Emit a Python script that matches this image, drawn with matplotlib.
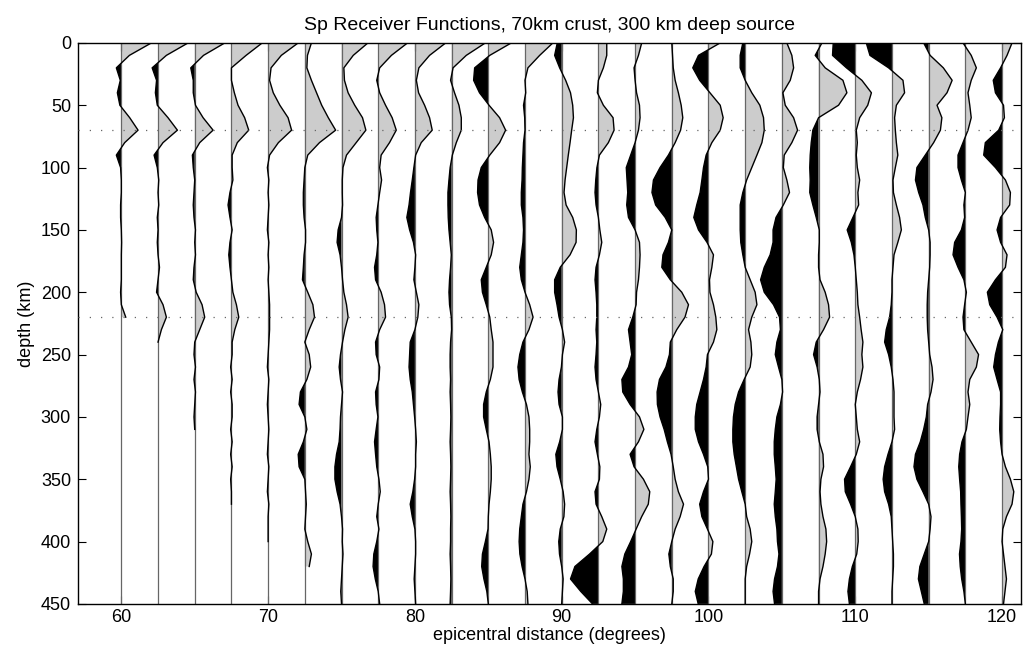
import numpy as np
import matplotlib
matplotlib.use('Agg')
import matplotlib.pyplot as plt

plt.rcParams['font.family'] = ['Liberation Sans', 'DejaVu Sans']

###############################################################################
# Data: trace amplitude (degrees of offset) sampled every 10 km of depth
###############################################################################
DEPTH = np.arange(0, 460, 10)
DIST = [60, 62.5, 65, 67.5, 70, 72.5, 75, 77.5, 80, 82.5, 85, 87.5, 90,
        92.5, 95, 97.5, 100, 102.5, 105, 107.5, 110, 112.5, 115, 117.5, 120]

AMP_60 = [2.05, 0.55, -0.34, -0.07, -0.27, -0.1, 0.57, 1.14, 0.23, -0.34,
          -0.05, 0, 0, -0.05, -0.05, 0, 0.02, 0, 0, 0, -0.05, 0, 0.3]
AMP_625 = [2.05, 0.57, -0.4, -0.1, -0.18, -0.05, 0.68, 1.32, 0.34, -0.27,
           -0.05, 0.05, 0, 0.05, -0.05, 0, -0.05, 0, 0.1, 0, -0.1, 0.34, 0.57,
           0.23, 0]
AMP_65 = [2.05, 0.6, -0.27, -0.1, -0.1, 0.05, 0.57, 1.25, 0.34, -0.16,
          -0.1, 0, -0.05, -0.1, -0.05, 0.05, 0, 0.05, -0.05, -0.1, 0.1, 0.5,
          0.68, 0.34, 0, -0.05, 0.05, -0.05, 0.05, 0, -0.05, 0]
AMP_675 = [2.1, 1.0, 0, 0, 0.2, 0.45, 0.9, 1.18, 0.4, 0.05, 0.05, 0.1, -0.1,
           -0.23, -0.1, 0.05, -0.1, -0.18, -0.1, 0, 0.1, 0.34, 0.5, 0.23, 0.05,
           0.05, -0.05, 0.05, -0.05, 0.05, 0.05, -0.05, 0.05, -0.05, 0.05,
           -0.05, 0, 0]
AMP_70 = [2.05, 0.9, 0.2, 0.1, 0.35, 0.8, 1.36, 1.6, 0.7, 0.1, -0.05, 0.05,
          0, 0.05, 0, -0.05, 0.05, 0, 0.05, 0, 0.05, 0.1, 0.1, 0.1, 0.05, 0,
          -0.05, 0.05, 0, -0.05, 0, 0.05, 0, -0.05, 0.05, 0, -0.05, 0.05, 0,
          0, 0]
AMP_725 = [0.45, 0.18, 0.14, 0.45, 0.8, 1.15, 1.6, 2.1, 1.0, 0.2, 0, -0.05,
           -0.1, -0.1, -0.05, 0.05, 0.05, -0.05, -0.1, -0.16, 0.2, 0.55, 0.66,
           0.3, 0, 0.3, 0.4, 0.14, -0.3, -0.39, 0, 0.14, -0.1, -0.45, -0.39, 0,
           0.05, 0.1, 0.05, 0, 0.2, 0.45, 0.3]
AMP_75 = [1.8, 0.8, 0.16, 0.2, 0.45, 0.9, 1.43, 1.66, 1.0, 0.34, 0.1, 0.05,
          0.05, 0.07, 0, -0.23, -0.3, -0.1, 0, 0.07, 0.16, 0.34, 0.45, 0.23,
          0.07, -0.07, -0.16, -0.07, 0.07, 0, -0.07, -0.1, -0.16, -0.34, -0.45,
          -0.45, -0.3, -0.1, 0, 0.07, 0.05, 0.1, 0.05, 0, -0.05, 0]
AMP_775 = [2.0, 0.9, 0.1, -0.1, 0.1, 0.5, 0.95, 1.23, 0.77, 0.2, 0.1, 0.23,
           0.1, -0.02, -0.14, -0.1, -0.02, -0.1, -0.25, -0.18, 0.2, 0.43, 0.5,
           0.1, -0.18, -0.14, 0.1, 0.05, -0.18, -0.14, -0.02, -0.14, -0.25,
           -0.18, -0.1, 0.05, 0.14, 0, -0.1, 0.05, -0.1, -0.3, -0.35, -0.2, 0,
           0.1]
AMP_80 = [2.1, 1.0, 0.27, 0.1, 0.25, 0.66, 1.0, 1.18, 0.43, 0.05, -0.07,
          -0.18, -0.3, -0.4, -0.55, -0.36, -0.1, 0.05, 0, -0.07, 0.1, 0.27,
          0.2, 0, -0.32, -0.36, -0.4, -0.32, -0.18, -0.1, -0.02, 0.05, 0.1,
          0.05, 0.05, -0.02, -0.14, -0.32, -0.18, 0, 0.05, 0.05, 0, -0.05, 0,
          0.05]
AMP_825 = [2.3, 1.0, 0.1, -0.07, 0.2, 0.5, 0.66, 0.66, 0.32, 0.05, -0.1,
           -0.18, -0.25, -0.25, -0.23, -0.18, -0.1, -0.02, -0.07, -0.14, -0.18,
           -0.14, -0.02, 0, -0.07, -0.1, -0.1, -0.07, -0.1, -0.07, -0.05,
           -0.07, -0.1, -0.07, -0.05, -0.07, -0.1, -0.07, -0.05, -0.07, -0.07,
           -0.1, -0.07, -0.05, -0.07, -0.1]
AMP_85 = [1.57, 0.1, -0.93, -1.0, -0.6, 0.05, 0.77, 1.18, 0.77, 0.1, -0.48,
          -0.7, -0.73, -0.6, -0.25, 0.2, 0.36, 0.2, -0.14, -0.48, -0.4, -0.14,
          0.1, 0.2, 0.32, 0.32, 0.32, 0.14, -0.14, -0.32, -0.32, -0.14, 0.05,
          0.14, 0.2, 0.2, 0.14, 0.05, 0, -0.02, -0.2, -0.4, -0.45, -0.3, -0.1,
          0]
AMP_875 = [1.9, 1.0, 0.2, 0, 0.05, -0.1, -0.02, 0, -0.1, -0.14, -0.18, -0.2,
           -0.25, -0.25, -0.14, -0.1, -0.14, -0.25, -0.36, -0.25, 0, 0.32,
           0.55, 0.27, -0.14, -0.36, -0.48, -0.4, -0.18, 0.1, 0.27, 0.32, 0.32,
           0.27, 0.36, 0.27, 0.1, -0.14, -0.25, -0.36, -0.4, -0.35, -0.2, 0,
           0.15, 0.2]
AMP_90 = [-0.3, -0.48, -0.14, 0.27, 0.6, 0.75, 0.8, 0.68, 0.57, 0.45, 0.34,
          0.23, 0.16, 0.3, 0.75, 1.0, 0.98, 0.57, -0.1, -0.48, -0.48, -0.32,
          -0.18, 0.05, 0.2, 0.05, -0.02, -0.18, -0.25, -0.18, 0.05, 0.05,
          -0.14, -0.4, -0.32, -0.1, 0.1, 0.2, 0.15, -0.1, -0.2, -0.15, 0, 0.1,
          0.05, 0]
AMP_925 = [0.57, 0.57, 0.34, 0, -0.07, 0.34, 1.0, 1.07, 0.68, 0.07, -0.1,
           -0.18, -0.23, -0.16, 0, 0.1, 0.23, 0.07, -0.16, -0.23, -0.16, -0.11,
           -0.11, -0.16, -0.11, -0.16, -0.23, -0.16, 0, 0.16, 0.07, -0.11,
           -0.23, -0.07, 0.1, 0.07, -0.23, -0.16, 0.23, 0.57, 0.3, -0.6, -1.6,
           -1.9, -1.2, -0.4]
AMP_95 = [0.45, 0.23, -0.07, 0, 0.1, 0.3, 0.34, 0.23, 0, -0.3, -0.6, -0.55,
          -0.5, -0.57, -0.45, 0, 0.3, 0.34, 0.3, 0.23, 0.1, 0.07, -0.16, -0.45,
          -0.34, -0.23, -0.45, -0.9, -0.84, -0.34, 0.3, 0.6, 0.23, -0.34,
          -0.07, 0.57, 1.0, 0.9, 0.45, 0.07, -0.3, -0.7, -0.9, -0.8, -0.8,
          -0.9]
AMP_975 = [0, 0.05, 0.1, 0.23, 0.45, 0.64, 0.75, 0.6, 0.23, -0.23, -0.8,
           -1.25, -1.35, -1.1, -0.45, 0, -0.23, -0.6, -0.68, -0.1, 0.68, 1.14,
           0.9, 0.34, -0.1, -0.16, -0.4, -0.84, -1.0, -0.98, -0.8, -0.52, -0.3,
           -0.05, 0.1, 0.23, 0.45, 0.8, 0.57, 0.23, 0, -0.2, -0.1, 0.1, 0.1, 0]
AMP_100 = [0.8, -0.68, -1.07, -0.6, 0.1, 0.8, 1.0, 0.8, 0.23, -0.16, -0.34,
           -0.45, -0.57, -0.8, -1.0, -0.68, -0.1, 0.34, 0.23, 0.07, 0.1, 0.34,
           0.5, 0.57, 0.34, -0.07, -0.16, -0.34, -0.57, -0.8, -0.9, -0.9,
           -0.68, -0.34, -0.05, 0, -0.34, -0.6, -0.45, -0.07, 0.3, 0.2, -0.3,
           -0.7, -0.9, -0.7]
AMP_1025 = [-0.16, -0.34, -0.34, 0, 0.45, 1.0, 1.25, 1.3, 1.14, 0.8, 0.45,
            0.1, -0.16, -0.34, -0.34, -0.34, -0.3, -0.16, 0, 0.34, 0.68, 0.8,
            0.45, 0.23, 0.39, 0.45, 0.34, -0.07, -0.45, -0.68, -0.8, -0.84,
            -0.84, -0.75, -0.6, -0.45, -0.23, 0, 0.1, 0.34, 0.45, 0.3, 0.1, 0,
            0, 0]
AMP_105 = [0.34, 0.68, 0.8, 0.57, 0.07, 0.23, 0.8, 1.07, 0.68, 0.16, 0.1,
           0.34, 0.52, 0.1, -0.4, -0.6, -0.6, -0.8, -1.2, -1.45, -1.2, -0.57,
           -0.16, -0.1, -0.34, -0.45, -0.23, 0, 0.05, -0.1, -0.34, -0.45,
           -0.52, -0.52, -0.45, -0.39, -0.45, -0.52, -0.45, -0.34, -0.3, -0.2,
           -0.3, -0.5, -0.6, -0.5]
AMP_1075 = [0.23, -0.23, 0.45, 1.66, 1.93, 1.36, 0, -0.39, -0.5, -0.57, -0.6,
            -0.57, -0.6, -0.39, -0.16, 0.05, 0.05, 0, 0, 0.1, 0.45, 0.68, 0.75,
            0.34, -0.16, -0.34, -0.1, 0.05, 0.1, 0, -0.1, -0.1, 0.05, 0.3,
            0.34, 0.16, 0.1, 0.16, 0.3, 0.5, 0.55, 0.45, 0.3, 0.1, 0, 0]
AMP_110 = [-1.5, -1.55, -0.6, 0.45, 1.1, 0.85, 0.3, 0.07, 0.14, 0.07, 0.14,
           0.3, 0.18, 0.23, -0.16, -0.55, -0.27, -0.09, 0, 0.07, 0.14, 0.18,
           0.3, 0.4, 0.52, 0.45, 0.52, 0.36, 0.14, 0, 0.07, 0.14, 0.3, 0.07,
           -0.32, -0.73, -0.68, -0.32, 0, 0.18, 0.2, 0.1, -0.2, -0.4, -0.5,
           -0.4]
AMP_1125 = [-1.75, -1.5, -0.23, 0.75, 0.86, 0.3, 0.18, 0.23, 0.3, 0.4, 0.23,
            0.07, 0.1, 0.3, 0.52, 0.64, 0.4, 0.14, 0.07, 0, 0, -0.05, -0.16,
            -0.39, -0.5, -0.23, -0.05, 0.07, 0.14, 0.14, 0.14, 0.18, 0, -0.27,
            -0.5, -0.6, -0.5, -0.23, -0.05, 0, 0.05, 0.1, 0.1, 0.05, 0, 0]
AMP_115 = [-0.34, 0.1, 1.0, 1.6, 1.25, 0.57, 0.9, 0.8, 0.34, -0.23, -0.8,
           -0.9, -0.68, -0.39, -0.23, 0, 0.1, 0.1, 0.07, 0, -0.07, -0.1, -0.1,
           -0.07, 0, 0.07, 0.23, 0.3, 0.16, -0.07, -0.16, -0.34, -0.57, -0.9,
           -1.0, -0.8, -0.39, 0, 0.16, 0.1, 0, -0.3, -0.6, -0.7, -0.5, -0.3]
AMP_1175 = [-0.16, 0.4, 0.75, 0.4, 0.18, 0.3, 0.4, 0.18, -0.16, -0.5, -0.5,
            -0.27, 0, -0.1, -0.05, -0.27, -0.73, -0.84, -0.5, -0.1, 0.07,
            -0.05, -0.16, -0.1, 0.4, 0.9, 0.75, 0.3, 0.18, 0.3, 0.18, 0.07,
            -0.23, -0.39, -0.45, -0.39, -0.32, -0.3, -0.27, -0.25, -0.3, -0.4,
            -0.35, -0.25, -0.1, 0]
AMP_120 = [0.68, 0.34, -0.1, -0.6, -0.45, 0.1, 0.16, -0.23, -1.14, -1.25,
           -0.45, 0.23, 0.57, 0.52, -0.1, -0.34, -0.1, 0.34, 0.23, -0.45, -1.0,
           -0.84, -0.34, 0.05, -0.25, -0.45, -0.57, -0.34, -0.1, -0.1, -0.14,
           -0.16, -0.1, 0, 0.23, 0.57, 0.8, 0.68, 0.3, 0.05, 0, 0.1, 0.2, 0.3,
           0.2, 0.1]

TRACES = [AMP_60, AMP_625, AMP_65, AMP_675, AMP_70, AMP_725, AMP_75, AMP_775,
          AMP_80, AMP_825, AMP_85, AMP_875, AMP_90, AMP_925, AMP_95, AMP_975,
          AMP_100, AMP_1025, AMP_105, AMP_1075, AMP_110, AMP_1125, AMP_115,
          AMP_1175, AMP_120]
MARKERS = [70, 220]

###############################################################################
# Plot
###############################################################################
fig = plt.figure(figsize=(10.24, 6.6), dpi=100)
ax = fig.add_axes([0.0762, 0.085, 0.921, 0.850])

for (dist, amp) in zip(DIST, TRACES):
    amp = np.asarray(amp, dtype=float)
    z = DEPTH[:len(amp)]
    x = dist + amp
    ax.fill_betweenx(z, dist, x, where=amp >= 0, interpolate=True,
                     color='#cccccc', lw=0, zorder=1)
    ax.fill_betweenx(z, dist, x, where=amp <= 0, interpolate=True,
                     color='k', lw=0, zorder=1)
    ax.axvline(dist, color='0.4', lw=0.9, zorder=2)
    ax.plot(x, z, color='k', lw=1.0, solid_joinstyle='round', zorder=3)

for m in MARKERS:
    ax.axhline(m, color='0.4', lw=0.9, ls=(0, (1, 8)), zorder=4)

ax.set_xlim(57.05, 121.3)
ax.set_ylim(450, 0)
ax.set_xticks(np.arange(60, 121, 10))
ax.set_yticks(np.arange(0, 451, 50))
ax.tick_params(direction='in', length=6, width=0.8, top=True, right=True,
               labelsize=13)
ax.tick_params(axis='y', pad=5)
for s in ax.spines.values():
    s.set_linewidth(1.0)
ax.set_xlabel('epicentral distance (degrees)', fontsize=13, labelpad=1)
ax.set_ylabel('depth (km)', fontsize=13, labelpad=4)
ax.set_title('Sp Receiver Functions, 70km crust, 300 km deep source',
             fontsize=14, pad=9)

fig.savefig('out.png', dpi=100)
plt.close('all')
